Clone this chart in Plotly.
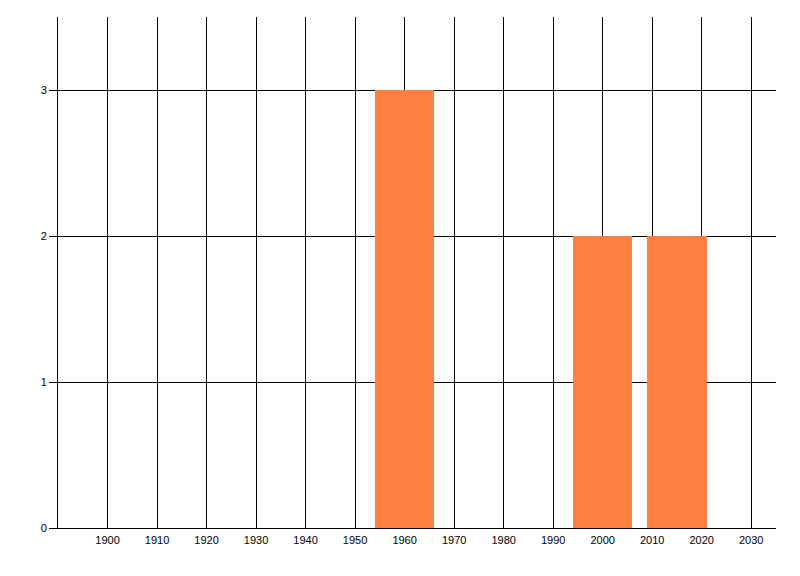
import plotly.graph_objects as go

years = [1960, 2000, 2015]
counts = [3, 2, 2]
x_tick_vals = list(range(1900, 2031, 10))
x_tick_text = [str(v) for v in x_tick_vals]
y_tick_vals = [0, 1, 2, 3]

fig = go.Figure()
fig.add_trace(go.Bar(
    x=years, y=counts, width=12,
    marker=dict(color="#FF7F40", line=dict(width=0)),
    hoverinfo="x+y",
))

# page body has an 8px default margin; compensate so the plot area lands
# at the reference position
fig.update_layout(
    width=800, height=576,
    margin=dict(l=49.5, r=32.3, t=9, b=56, pad=0),
    paper_bgcolor="white", plot_bgcolor="white",
    showlegend=False,
    font=dict(family="Liberation Sans, Arial, sans-serif", size=11, color="black"),
    bargap=0,
)
fig.update_xaxes(
    range=[1890, 2035],
    tickmode="array", tickvals=x_tick_vals, ticktext=x_tick_text,
    showgrid=True, gridcolor="black", gridwidth=1,
    showline=True, linecolor="black", linewidth=1,
    ticks="outside", ticklen=2, tickcolor="rgba(0,0,0,0)",
    zeroline=False,
)
fig.update_yaxes(
    range=[0, 3.5],
    tickmode="array", tickvals=y_tick_vals,
    showgrid=True, gridcolor="black", gridwidth=1,
    showline=True, linecolor="black", linewidth=1,
    ticks="outside", ticklen=8, tickcolor="black", tickwidth=1,
    zeroline=False,
)

fig.write_html("out.html")
